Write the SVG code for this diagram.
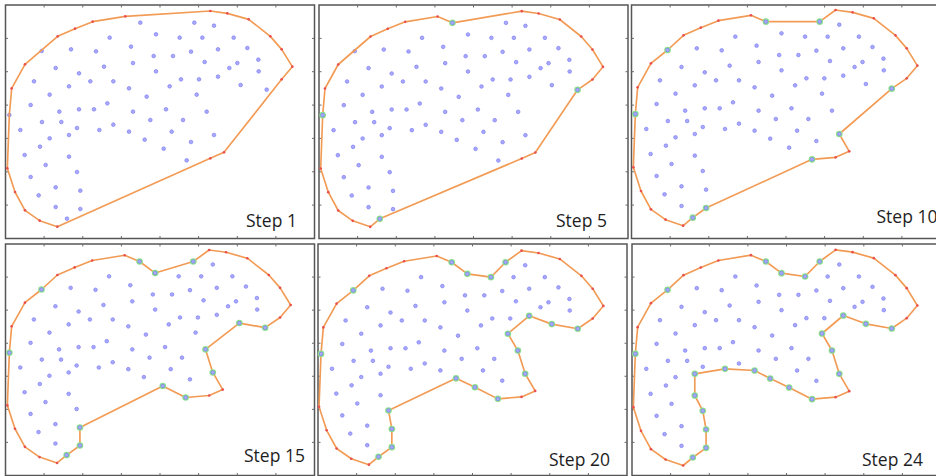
<svg xmlns="http://www.w3.org/2000/svg" width="936" height="476" viewBox="0 0 936 476">
<style>
.frame{fill:#fff;stroke:#565656;stroke-width:1.5}
.tick{fill:none;stroke:#6a6a6a;stroke-width:1}
.pt{fill:#a9a9ff;stroke:#7a7af0;stroke-width:2}
.hull{fill:none;stroke:#f29b55;stroke-width:5;stroke-linejoin:round}
.red{fill:#ea5050}
.grn{fill:#8fe08f}
.lbl{font-family:"Open Sans","Noto Sans",sans-serif;font-size:17.5px;fill:#1e1e1e}
</style>
<defs>
<g id="frame">
<rect class="frame" x="0" y="0" width="309" height="233.5"/>
<path class="tick" d="M38.6,0v2.5M77.3,0v2.5M115.9,0v2.5M154.5,0v2.5M193.1,0v2.5M231.8,0v2.5M270.4,0v2.5M38.6,233.5v-2.5M77.3,233.5v-2.5M115.9,233.5v-2.5M154.5,233.5v-2.5M193.1,233.5v-2.5M231.8,233.5v-2.5M270.4,233.5v-2.5M0,33.4h2.5M0,66.7h2.5M0,100.1h2.5M0,133.4h2.5M0,166.8h2.5M0,200.1h2.5M309,33.4h-2.5M309,66.7h-2.5M309,100.1h-2.5M309,133.4h-2.5M309,166.8h-2.5M309,200.1h-2.5"/>
</g>
<circle id="b" class="pt" r="5.5"/>
<circle id="g" class="grn" r="10"/>
<g id="pts">
<use href="#b" x="421" y="68"/><use href="#b" x="583" y="68"/><use href="#b" x="642" y="77"/><use href="#b" x="468" y="103"/>
<use href="#b" x="329" y="113"/><use href="#b" x="539" y="113"/><use href="#b" x="607" y="113"/><use href="#b" x="701" y="113"/>
<use href="#b" x="393" y="140"/><use href="#b" x="742" y="144"/><use href="#b" x="213" y="148"/><use href="#b" x="654" y="148"/>
<use href="#b" x="125" y="153"/><use href="#b" x="288" y="154"/><use href="#b" x="573" y="155"/><use href="#b" x="461" y="168"/>
<use href="#b" x="519" y="168"/><use href="#b" x="775" y="179"/><use href="#b" x="614" y="186"/><use href="#b" x="712" y="189"/>
<use href="#b" x="399" y="189"/><use href="#b" x="312" y="200"/><use href="#b" x="167" y="204"/><use href="#b" x="688" y="204"/>
<use href="#b" x="468" y="214"/><use href="#b" x="776" y="214"/><use href="#b" x="237" y="220"/><use href="#b" x="654" y="230"/>
<use href="#b" x="543" y="238"/><use href="#b" x="597" y="238"/><use href="#b" x="102" y="244"/><use href="#b" x="271" y="244"/>
<use href="#b" x="340" y="244"/><use href="#b" x="722" y="255"/><use href="#b" x="207" y="259"/><use href="#b" x="509" y="259"/>
<use href="#b" x="387" y="265"/><use href="#b" x="800" y="269"/><use href="#b" x="149" y="284"/><use href="#b" x="590" y="284"/>
<use href="#b" x="440" y="290"/><use href="#b" x="322" y="310"/><use href="#b" x="92" y="315"/><use href="#b" x="237" y="328"/>
<use href="#b" x="282" y="328"/><use href="#b" x="498" y="328"/><use href="#b" x="178" y="335"/><use href="#b" x="399" y="335"/>
<use href="#b" x="620" y="335"/><use href="#b" x="28" y="345"/><use href="#b" x="451" y="360"/><use href="#b" x="549" y="360"/>
<use href="#b" x="126" y="366"/><use href="#b" x="184" y="366"/><use href="#b" x="340" y="374"/><use href="#b" x="231" y="384"/>
<use href="#b" x="61" y="390"/><use href="#b" x="298" y="390"/><use href="#b" x="387" y="395"/><use href="#b" x="515" y="395"/>
<use href="#b" x="207" y="405"/><use href="#b" x="642" y="405"/><use href="#b" x="149" y="415"/><use href="#b" x="434" y="419"/>
<use href="#b" x="573" y="426"/><use href="#b" x="120" y="440"/><use href="#b" x="491" y="446"/><use href="#b" x="74" y="465"/>
<use href="#b" x="207" y="470"/><use href="#b" x="560" y="481"/><use href="#b" x="137" y="495"/><use href="#b" x="231" y="516"/>
<use href="#b" x="92" y="531"/><use href="#b" x="167" y="562"/><use href="#b" x="241" y="572"/><use href="#b" x="116" y="586"/>
<use href="#b" x="167" y="621"/><use href="#b" x="241" y="627"/><use href="#b" x="201" y="656"/>
</g>
<g id="reds" class="red">
<circle cx="631" cy="33" r="4"/><circle cx="682" cy="40" r="4"/><circle cx="746" cy="58" r="4"/><circle cx="811" cy="109" r="4"/>
<circle cx="845" cy="148" r="4"/><circle cx="877" cy="200" r="4"/><circle cx="845" cy="238" r="4"/><circle cx="672" cy="457" r="4"/>
<circle cx="631" cy="475" r="4"/><circle cx="172" cy="680" r="4"/><circle cx="119" cy="662" r="4"/><circle cx="75" cy="631" r="4"/>
<circle cx="45" cy="576" r="4"/><circle cx="22" cy="505" r="4"/><circle cx="35" cy="265" r="4"/><circle cx="75" cy="193" r="4"/>
<circle cx="173" cy="109" r="4"/><circle cx="225" cy="86" r="4"/><circle cx="278" cy="65" r="4"/><circle cx="376" cy="49" r="4"/>
</g>
</defs>

<g id="frames">
<use href="#frame" x="5.5" y="5"/>
<use href="#frame" x="319" y="5"/>
<use href="#frame" x="631.5" y="5"/>
<use href="#frame" transform="translate(5.5,244) scale(1,0.9914)"/>
<use href="#frame" transform="translate(318,244) scale(1,0.9914)"/>
<use href="#frame" transform="translate(632,244) scale(1,0.9914)"/>
</g>

<g id="step1" transform="matrix(0.33333 0 0 0.33333 0 0)">
<use href="#pts"/>
<polygon class="hull" points="631,33 682,40 746,58 811,109 845,148 877,200 845,238 672,457 631,475 172,680 119,662 75,631 45,576 22,505 28,345 35,265 75,193 173,109 225,86 278,65 376,49"/>
<use href="#reds"/>
</g>
<text class="lbl" x="246" y="226.5">Step 1</text>

<g id="step5" transform="matrix(0.3302 0 0 0.33333 313.43 0.17)">
<use href="#pts"/>
<polygon class="hull" points="631,33 682,40 746,58 811,109 845,148 877,200 845,238 800,269 672,457 631,475 201,656 172,680 119,662 75,631 45,576 22,505 28,345 35,265 75,193 173,109 225,86 278,65 376,49 421,68"/>
<use href="#reds"/>
<use href="#g" x="800" y="269"/><use href="#b" x="800" y="269"/>
<use href="#g" x="201" y="656"/><use href="#b" x="201" y="656"/>
<use href="#g" x="28" y="345"/><use href="#b" x="28" y="345"/>
<use href="#g" x="421" y="68"/><use href="#b" x="421" y="68"/>
</g>
<text class="lbl" x="556" y="226.5">Step 5</text>

<g id="step10" transform="matrix(0.33217 0 0 0.33333 626.03 -1)">
<use href="#pts"/>
<polygon class="hull" points="631,33 682,40 746,58 811,109 845,148 877,200 845,238 800,269 642,405 672,457 631,475 560,481 241,627 201,656 172,680 119,662 75,631 45,576 22,505 28,345 35,265 75,193 125,153 173,109 225,86 278,65 376,49 421,68 583,68"/>
<use href="#reds"/>
<use href="#g" x="800" y="269"/><use href="#b" x="800" y="269"/>
<use href="#g" x="642" y="405"/><use href="#b" x="642" y="405"/>
<use href="#g" x="560" y="481"/><use href="#b" x="560" y="481"/>
<use href="#g" x="241" y="627"/><use href="#b" x="241" y="627"/>
<use href="#g" x="201" y="656"/><use href="#b" x="201" y="656"/>
<use href="#g" x="28" y="345"/><use href="#b" x="28" y="345"/>
<use href="#g" x="125" y="153"/><use href="#b" x="125" y="153"/>
<use href="#g" x="421" y="68"/><use href="#b" x="421" y="68"/>
<use href="#g" x="583" y="68"/><use href="#b" x="583" y="68"/>
</g>
<text class="lbl" x="876.5" y="223">Step 10</text>

<g id="step15" transform="matrix(0.33137 0 0 0.3292 0.07 239.13)">
<use href="#pts"/>
<polygon class="hull" points="631,33 682,40 746,58 811,109 845,148 877,200 845,238 800,269 722,255 620,335 642,405 672,457 631,475 560,481 491,446 241,572 241,627 201,656 172,680 119,662 75,631 45,576 22,505 28,345 35,265 75,193 125,153 173,109 225,86 278,65 376,49 421,68 468,103 583,68"/>
<use href="#reds"/>
<use href="#g" x="800" y="269"/><use href="#b" x="800" y="269"/>
<use href="#g" x="722" y="255"/><use href="#b" x="722" y="255"/>
<use href="#g" x="620" y="335"/><use href="#b" x="620" y="335"/>
<use href="#g" x="642" y="405"/><use href="#b" x="642" y="405"/>
<use href="#g" x="560" y="481"/><use href="#b" x="560" y="481"/>
<use href="#g" x="491" y="446"/><use href="#b" x="491" y="446"/>
<use href="#g" x="241" y="572"/><use href="#b" x="241" y="572"/>
<use href="#g" x="241" y="627"/><use href="#b" x="241" y="627"/>
<use href="#g" x="201" y="656"/><use href="#b" x="201" y="656"/>
<use href="#g" x="28" y="345"/><use href="#b" x="28" y="345"/>
<use href="#g" x="125" y="153"/><use href="#b" x="125" y="153"/>
<use href="#g" x="421" y="68"/><use href="#b" x="421" y="68"/>
<use href="#g" x="468" y="103"/><use href="#b" x="468" y="103"/>
<use href="#g" x="583" y="68"/><use href="#b" x="583" y="68"/>
</g>
<text class="lbl" x="244" y="461.5">Step 15</text>

<g id="step20" transform="matrix(0.33253 0 0 0.33077 311.7 239.77)">
<use href="#pts"/>
<polygon class="hull" points="631,33 682,40 746,58 811,109 845,148 877,200 845,238 800,269 722,255 654,230 590,284 620,335 642,405 672,457 631,475 560,481 491,446 434,419 231,516 241,572 241,627 201,656 172,680 119,662 75,631 45,576 22,505 28,345 35,265 75,193 125,153 173,109 225,86 278,65 376,49 421,68 468,103 539,113 583,68"/>
<use href="#reds"/>
<use href="#g" x="800" y="269"/><use href="#b" x="800" y="269"/>
<use href="#g" x="722" y="255"/><use href="#b" x="722" y="255"/>
<use href="#g" x="654" y="230"/><use href="#b" x="654" y="230"/>
<use href="#g" x="590" y="284"/><use href="#b" x="590" y="284"/>
<use href="#g" x="620" y="335"/><use href="#b" x="620" y="335"/>
<use href="#g" x="642" y="405"/><use href="#b" x="642" y="405"/>
<use href="#g" x="560" y="481"/><use href="#b" x="560" y="481"/>
<use href="#g" x="491" y="446"/><use href="#b" x="491" y="446"/>
<use href="#g" x="434" y="419"/><use href="#b" x="434" y="419"/>
<use href="#g" x="231" y="516"/><use href="#b" x="231" y="516"/>
<use href="#g" x="241" y="572"/><use href="#b" x="241" y="572"/>
<use href="#g" x="241" y="627"/><use href="#b" x="241" y="627"/>
<use href="#g" x="201" y="656"/><use href="#b" x="201" y="656"/>
<use href="#g" x="28" y="345"/><use href="#b" x="28" y="345"/>
<use href="#g" x="125" y="153"/><use href="#b" x="125" y="153"/>
<use href="#g" x="421" y="68"/><use href="#b" x="421" y="68"/>
<use href="#g" x="468" y="103"/><use href="#b" x="468" y="103"/>
<use href="#g" x="539" y="113"/><use href="#b" x="539" y="113"/>
<use href="#g" x="583" y="68"/><use href="#b" x="583" y="68"/>
</g>
<text class="lbl" x="549" y="465.5">Step 20</text>

<g id="step24" transform="matrix(0.33217 0 0 0.33333 626.03 238.83)">
<use href="#pts"/>
<polygon class="hull" points="631,33 682,40 746,58 811,109 845,148 877,200 845,238 800,269 722,255 654,230 590,284 620,335 642,405 672,457 631,475 560,481 491,446 434,419 387,395 298,390 207,405 207,470 231,516 241,572 241,627 201,656 172,680 119,662 75,631 45,576 22,505 28,345 35,265 75,193 125,153 173,109 225,86 278,65 376,49 421,68 468,103 539,113 583,68"/>
<use href="#reds"/>
<use href="#g" x="800" y="269"/><use href="#b" x="800" y="269"/>
<use href="#g" x="722" y="255"/><use href="#b" x="722" y="255"/>
<use href="#g" x="654" y="230"/><use href="#b" x="654" y="230"/>
<use href="#g" x="590" y="284"/><use href="#b" x="590" y="284"/>
<use href="#g" x="620" y="335"/><use href="#b" x="620" y="335"/>
<use href="#g" x="642" y="405"/><use href="#b" x="642" y="405"/>
<use href="#g" x="560" y="481"/><use href="#b" x="560" y="481"/>
<use href="#g" x="491" y="446"/><use href="#b" x="491" y="446"/>
<use href="#g" x="434" y="419"/><use href="#b" x="434" y="419"/>
<use href="#g" x="387" y="395"/><use href="#b" x="387" y="395"/>
<use href="#g" x="298" y="390"/><use href="#b" x="298" y="390"/>
<use href="#g" x="207" y="405"/><use href="#b" x="207" y="405"/>
<use href="#g" x="207" y="470"/><use href="#b" x="207" y="470"/>
<use href="#g" x="231" y="516"/><use href="#b" x="231" y="516"/>
<use href="#g" x="241" y="572"/><use href="#b" x="241" y="572"/>
<use href="#g" x="241" y="627"/><use href="#b" x="241" y="627"/>
<use href="#g" x="201" y="656"/><use href="#b" x="201" y="656"/>
<use href="#g" x="28" y="345"/><use href="#b" x="28" y="345"/>
<use href="#g" x="125" y="153"/><use href="#b" x="125" y="153"/>
<use href="#g" x="421" y="68"/><use href="#b" x="421" y="68"/>
<use href="#g" x="468" y="103"/><use href="#b" x="468" y="103"/>
<use href="#g" x="539" y="113"/><use href="#b" x="539" y="113"/>
<use href="#g" x="583" y="68"/><use href="#b" x="583" y="68"/>
</g>
<text class="lbl" x="862" y="465.5">Step 24</text>
</svg>
